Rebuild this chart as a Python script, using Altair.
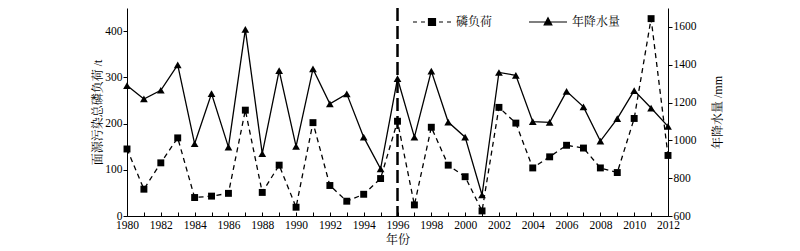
import altair as alt
import pandas as pd

years = list(range(1980, 2013))
phos_load = [145, 58, 115, 169, 40, 43, 49, 229, 51, 110, 19, 202, 66, 32, 47, 81,
             205, 24, 192, 110, 85, 11, 235, 201, 104, 128, 153, 147, 104, 94, 211, 427, 131]
precip = [1290, 1219, 1265, 1399, 982, 1247, 964, 1587, 930, 1369, 968, 1378, 1193, 1246, 1017, 849,
          1327, 1017, 1366, 1097, 1017, 711, 1359, 1344, 1099, 1095, 1259, 1177, 996, 1115, 1263, 1171, 1074]
series_names = ["磷负荷", "年降水量"]
split_year = [1996]
left_ticks = [0, 100, 200, 300, 400]
right_ticks = [600, 800, 1000, 1200, 1400, 1600]
x_label_years = list(range(1980, 2013, 2))
x_tick_years = years

df = pd.DataFrame({"年份": years, "磷负荷": phos_load, "年降水量": precip})
df_split = pd.DataFrame({"年份": split_year})
df_legend = pd.DataFrame({"series": series_names})

W, H = 541, 208
NUMFONT = "Times New Roman, Liberation Serif, serif"
CJKFONT = "Times New Roman, Liberation Serif, Noto Serif CJK SC, Noto Sans CJK SC, serif"

x_scale = alt.Scale(domain=[1980, 2012], nice=False, zero=False)

x_main = alt.X("年份:Q", scale=x_scale,
               axis=alt.Axis(values=x_label_years, format="d",
                             ticks=False, title="年份", labelPadding=3, titlePadding=4,
                             labelFlush=False, labelOverlap=False, labelBound=False))
x_tickaxis = alt.X("年份:Q", scale=x_scale,
                   axis=alt.Axis(orient="top", offset=-H, values=x_tick_years, labels=False,
                                 domain=False, ticks=True, tickSize=4, title=None))

y_left = alt.Y("磷负荷:Q", scale=alt.Scale(domain=[0, 450], nice=False),
               axis=alt.Axis(values=left_ticks, format="d", title="面源污染总磷负荷 /t", tickSize=4,
                             labelPadding=1, labelFlush=False,
                             titleX=-30, titleY=H / 2, titleAngle=270,
                             titleAlign="center", titleBaseline="middle"))
y_right = alt.Y("年降水量:Q", scale=alt.Scale(domain=[600, 1700], nice=False, zero=False),
                axis=alt.Axis(orient="right", values=right_ticks, format="d", title="年降水量 /mm",
                              tickSize=4, labelPadding=1, labelFlush=False,
                              titleX=49, titleY=H / 2, titleAngle=270,
                              titleAlign="center", titleBaseline="middle"))

base = alt.Chart(df)

left_line = base.mark_line(color="black", strokeWidth=1.3, strokeDash=[5, 4]).encode(x=x_main, y=y_left)
left_pts = base.mark_point(shape="square", filled=True, size=48, color="black", opacity=1).encode(x=x_main, y=y_left)
rule = alt.Chart(df_split).mark_rule(color="black", strokeWidth=2.5, strokeDash=[13, 5]).encode(x=x_main)

path_p = ("M-1,0L-0.79,0M-0.58,0L-0.37,0M0.37,0L0.58,0M0.79,0L1,0"
          "M-0.184,-0.184L0.184,-0.184L0.184,0.184L-0.184,0.184Z")
path_r = "M-1,0L1,0M-0.2,0.15L0.2,0.15L0,-0.22Z"

legend_layer = alt.Chart(df_legend).transform_filter("false").mark_point(
    filled=True, fill="black", stroke="black", strokeWidth=1.2, opacity=1).encode(
    shape=alt.Shape("series:N",
                    scale=alt.Scale(domain=series_names, range=[path_p, path_r]),
                    legend=alt.Legend(title=None, orient="none", legendX=285, legendY=-6,
                                      direction="horizontal", symbolSize=1444,
                                      symbolStrokeWidth=1.2,
                                      labelFontSize=12, labelOffset=4, columnPadding=33,
                                      labelFont=CJKFONT, labelColor="black", padding=0))
)

right_line = base.mark_line(color="black", strokeWidth=1.3).encode(x=x_tickaxis, y=y_right)
right_pts = base.mark_point(shape="triangle-up", filled=True, size=60, color="black", opacity=1).encode(x=x_tickaxis, y=y_right)

left_group = alt.layer(left_line, left_pts, rule, legend_layer)
right_group = alt.layer(right_line, right_pts)

chart = alt.layer(left_group, right_group).resolve_scale(
    y="independent"
).resolve_axis(
    x="independent"
).properties(
    width=W, height=H,
    autosize=alt.AutoSizeParams(type="none"),
    padding={"left": 119, "top": 0, "right": 110, "bottom": 30},
).configure_view(
    strokeWidth=0
).configure_axis(
    domainColor="black", tickColor="black", labelColor="black", titleColor="black",
    labelFont=NUMFONT, titleFont=CJKFONT, labelFontSize=11.5, titleFontSize=12,
    titleFontWeight="normal", grid=False, domainWidth=1, tickWidth=1, labelOverlap=False
)

chart.save("out.html", embed_options={"renderer": "svg", "actions": False})
